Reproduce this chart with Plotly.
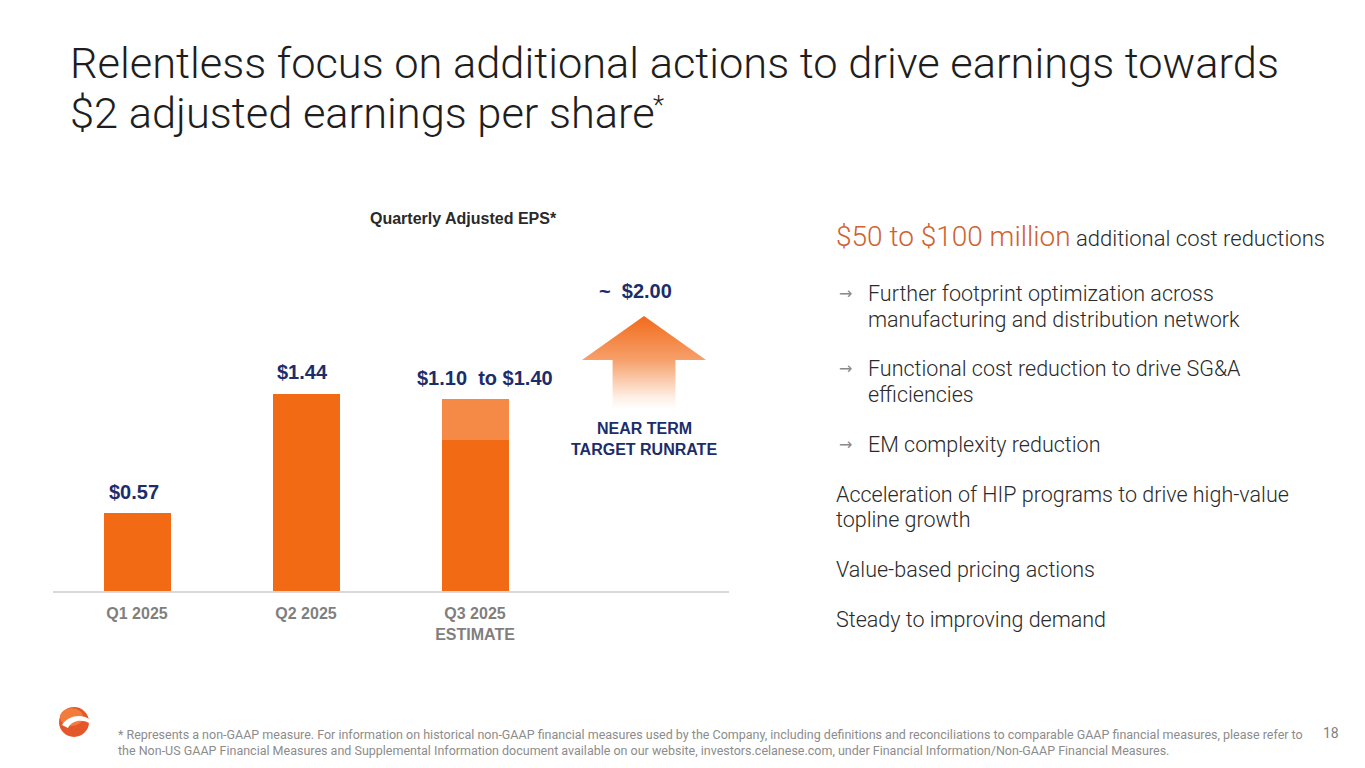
import plotly.graph_objects as go

# ---- data ----
quarters = ["Q1 2025", "Q2 2025", "Q3 2025<br>ESTIMATE"]
eps_base = [0.57, 1.44, 1.10]          # reported / low end of estimate
eps_range = [0.0, 0.0, 0.30]           # estimate range on top of low end
bar_labels = ["$0.57", "$1.44", "$1.10\u00a0 to $1.40"]
target_eps = 2.00
target_label = "~\u00a0 $2.00"
target_caption = ["NEAR TERM", "TARGET RUNRATE"]

headline_orange = "$50 to $100 million"
headline_rest = "additional cost reductions"
bullets = [
    ["Further footprint optimization across", "manufacturing and distribution network"],
    ["Functional cost reduction to drive SG&A", "efficiencies"],
    ["EM complexity reduction"],
]
plain_items = [
    ["Acceleration of HIP programs to drive high-value", "topline growth"],
    ["Value-based pricing actions"],
    ["Steady to improving demand"],
]
footnote = [
    "* Represents a non-GAAP measure. For information on historical non-GAAP financial measures used by the Company, "
    "including definitions and reconciliations to comparable GAAP financial measures, please refer to",
    "the Non-US GAAP Financial Measures and Supplemental Information document available on our website, "
    "investors.celanese.com, under Financial Information/Non-GAAP Financial Measures.",
]
page_no = "18"

W, H = 1365, 768
OX, OY = 8, 8            # page margin of the html body
ORANGE = "#F26A14"
ORANGE_LIGHT = "#F58A46"
NAVY = "#1B2D6B"
DARK = "#2A2A2A"
GREY = "#7F7F7F"
FONT = "Roboto"
LABEL_FONT = "Liberation Sans"


def px(x):
    return (x - OX) / W


def py(y):
    return 1 - (y - OY) / H


fig = go.Figure()

xs = list(range(len(quarters)))
fig.add_trace(go.Bar(x=xs, y=eps_base, width=0.4, marker=dict(color=ORANGE, line=dict(width=0)),
                     hoverinfo="skip"))
fig.add_trace(go.Bar(x=xs, y=eps_range, width=0.4, marker=dict(color=ORANGE_LIGHT, line=dict(width=0)),
                     hoverinfo="skip"))

# target arrow at the 4th slot, tip at the target value
ax = len(quarters)
head_half, shaft_half = 0.367, 0.186
head_base = target_eps - 0.32
shaft_bottom = target_eps - 0.68
arrow_x = [ax - shaft_half, ax - shaft_half, ax - head_half, ax, ax + head_half, ax + shaft_half,
           ax + shaft_half, ax - shaft_half]
arrow_y = [shaft_bottom, head_base, head_base, target_eps, head_base, head_base, shaft_bottom, shaft_bottom]
fig.add_trace(go.Scatter(
    x=arrow_x, y=arrow_y, mode="lines", fill="toself", line=dict(width=0),
    fillgradient=dict(type="vertical",
                      colorscale=[[0, "rgba(255,255,255,1)"], [0.12, "#FEF1E8"],
                                  [0.53, "#F6A06A"], [1, "#F26A1B"]]),
    hoverinfo="skip"))

annotations = []
# bar value labels
for i, (b, r, lab) in enumerate(zip(eps_base, eps_range, bar_labels)):
    top = b + r
    annotations.append(dict(x=i + (0.06 if r > 0 else -0.02), y=top, xref="x", yref="y", text=lab,
                            showarrow=False, xanchor="center", yanchor="bottom", yshift=8,
                            font=dict(family=LABEL_FONT, size=20, color=NAVY, weight="bold")))

annotations.append(dict(x=ax - 0.05, y=target_eps, xref="x", yref="y", text=target_label, showarrow=False,
                        xanchor="center", yanchor="bottom", yshift=12,
                        font=dict(family=LABEL_FONT, size=20, color=NAVY, weight="bold")))
for k, line in enumerate(target_caption):
    annotations.append(dict(x=ax, y=shaft_bottom, xref="x", yref="y", text=line, showarrow=False,
                            xanchor="center", yanchor="middle", yshift=-19 - 21 * k,
                            font=dict(family=LABEL_FONT, size=16, color=NAVY, weight="bold")))

# chart title
annotations.append(dict(x=px(464), y=py(218), xref="paper", yref="paper", text="Quarterly Adjusted EPS*",
                        showarrow=False, xanchor="center", yanchor="middle",
                        font=dict(family=LABEL_FONT, size=16, color=DARK, weight="bold")))

# slide title
annotations.append(dict(x=px(68), y=py(64), xref="paper", yref="paper",
                        text="Relentless focus on additional actions to drive earnings towards",
                        showarrow=False, xanchor="left", yanchor="middle",
                        font=dict(family=FONT, size=43.4, color="#1E1E1E", weight=300)))
annotations.append(dict(x=px(68), y=py(113), xref="paper", yref="paper",
                        text="$2 adjusted earnings per share",
                        showarrow=False, xanchor="left", yanchor="middle",
                        font=dict(family=FONT, size=43.4, color="#1E1E1E", weight=300)))
annotations.append(dict(x=px(651), y=py(105), xref="paper", yref="paper", text="*",
                        showarrow=False, xanchor="left", yanchor="middle",
                        font=dict(family=FONT, size=26, color="#1E1E1E", weight=300)))

# right hand text
annotations.append(dict(x=px(834), y=py(237), xref="paper", yref="paper",
                        text=f"<span style='color:#CF6230;font-size:28px'>{headline_orange}</span> {headline_rest}",
                        showarrow=False, xanchor="left", yanchor="middle",
                        font=dict(family=FONT, size=22, color=DARK, weight=300)))

y = 294
for item in bullets:
    annotations.append(dict(x=px(837), y=py(y), xref="paper", yref="paper", text="\u2192", showarrow=False,
                            xanchor="left", yanchor="middle",
                            font=dict(family="DejaVu Sans", size=16, color="#8A8A8A")))
    for line in item:
        annotations.append(dict(x=px(866), y=py(y), xref="paper", yref="paper", text=line, showarrow=False,
                                xanchor="left", yanchor="middle",
                                font=dict(family=FONT, size=21.5, color=DARK, weight=300)))
        y += 25
    y += 25
for item in plain_items:
    for line in item:
        annotations.append(dict(x=px(834), y=py(y), xref="paper", yref="paper", text=line, showarrow=False,
                                xanchor="left", yanchor="middle",
                                font=dict(family=FONT, size=21.5, color=DARK, weight=300)))
        y += 25
    y += 25

# footnote and page number
for line, yy in zip(footnote, [734, 750]):
    annotations.append(dict(x=px(116), y=py(yy), xref="paper", yref="paper", text=line, showarrow=False,
                            xanchor="left", yanchor="middle",
                            font=dict(family=FONT, size=12.5, color="#8C8C8C")))
annotations.append(dict(x=px(1331), y=py(733), xref="paper", yref="paper", text=page_no, showarrow=False,
                        xanchor="center", yanchor="middle", font=dict(family=FONT, size=14, color=GREY)))

# logo: orange sphere with white swoosh
cx, cy, rr = 74, 722, 15
shapes = [
    dict(type="circle", xref="paper", yref="paper", x0=px(cx - rr), x1=px(cx + rr), y0=py(cy + rr),
         y1=py(cy - rr), fillcolor="#E4572A", line=dict(width=0), layer="above"),
    dict(type="circle", xref="paper", yref="paper", x0=px(cx - rr + 1), x1=px(cx + rr - 6),
         y0=py(cy + 4), y1=py(cy - rr + 1), fillcolor="#F27C3C", line=dict(width=0), layer="above"),
    dict(type="path", xref="paper", yref="paper", layer="above",
         path=(f"M {px(cx - 12)},{py(cy + 3)} C {px(cx - 6)},{py(cy - 7)} {px(cx + 8)},{py(cy - 8)} "
               f"{px(cx + 15)},{py(cy - 3)} L {px(cx + 15)},{py(cy + 1)} "
               f"C {px(cx + 8)},{py(cy - 3)} {px(cx - 2)},{py(cy - 2)} {px(cx - 6)},{py(cy + 6)} Z"),
         fillcolor="white", line=dict(width=0)),
]

fig.update_layout(
    width=W, height=H,
    margin=dict(l=0, r=0, t=0, b=0),
    paper_bgcolor="white", plot_bgcolor="white",
    barmode="stack", bargap=0,
    showlegend=False, hovermode=False,
    annotations=annotations, shapes=shapes,
    xaxis=dict(domain=[px(52.5), px(728.5)], range=[-0.5, 3.5], tickvals=xs, ticktext=quarters,
               showgrid=False, zeroline=False, showline=True, linecolor="#D9D9D9", linewidth=2,
               ticks="outside", ticklen=7, tickcolor="rgba(0,0,0,0)", fixedrange=True,
               tickfont=dict(family=LABEL_FONT, size=16, color=GREY, weight="bold")),
    yaxis=dict(domain=[py(591), py(233.5)], range=[0, 2.6], visible=False, fixedrange=True),
)

fig.write_html("out.html")
